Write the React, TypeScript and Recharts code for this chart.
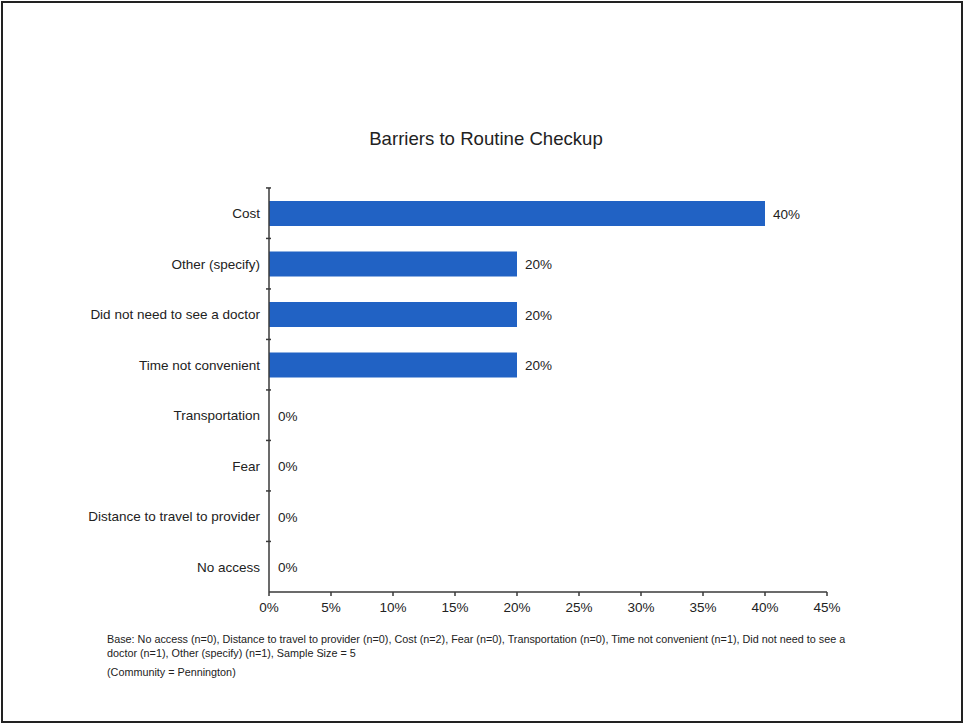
import { BarChart, Bar, XAxis, YAxis, LabelList, Cell } from 'recharts'

const CATEGORIES = [
  'Cost',
  'Other (specify)',
  'Did not need to see a doctor',
  'Time not convenient',
  'Transportation',
  'Fear',
  'Distance to travel to provider',
  'No access',
]

const PERCENTS = [40, 20, 20, 20, 0, 0, 0, 0]

const X_TICKS = [0, 5, 10, 15, 20, 25, 30, 35, 40, 45]

const NOTE_LINES = [
  'Base: No access (n=0), Distance to travel to provider (n=0), Cost (n=2), Fear (n=0), Transportation (n=0), Time not convenient (n=1), Did not need to see a',
  'doctor (n=1), Other (specify) (n=1), Sample Size = 5',
]
const COMMUNITY = '(Community = Pennington)'

const FONT = 'Arial, "Liberation Sans", sans-serif'
const BAR_COLOR = '#2162c4'
const AXIS_COLOR = '#3a3a3a'

const data = CATEGORIES.map((name, i) => ({ name, value: PERCENTS[i] }))

// category tick: label plus a small mark on the band boundary above it
const CategoryTick = (props: any) => {
  const { x, y, payload } = props
  const half = 405 / CATEGORIES.length / 2
  return (
    <g>
      <line x1={x + 5} x2={x + 10} y1={y - half} y2={y - half} stroke={AXIS_COLOR} strokeWidth={1.5} />
      <text x={x - 1} y={y + 1} dy={4} textAnchor="end" fontSize={13.5} fill="#222" fontFamily={FONT}>
        {payload.value}
      </text>
    </g>
  )
}

// value label, drawn for zero-length bars too
const ValueLabel = (props: any) => {
  const { x, y, width, height, value } = props
  return (
    <text
      x={Number(x) + Number(width) + 8}
      y={Number(y) + Number(height) / 2 + 5}
      fontSize={13.5}
      fill="#222"
      fontFamily={FONT}
    >
      {`${value}%`}
    </text>
  )
}

export default function App() {
  return (
    <div
      style={{
        position: 'absolute',
        left: 0,
        top: 0,
        width: 964,
        height: 724,
        background: '#fff',
        fontFamily: FONT,
      }}
    >
      <div
        style={{
          position: 'absolute',
          left: 1,
          top: 1,
          width: 958,
          height: 718,
          border: '2px solid #222',
        }}
      />
      <div
        style={{
          position: 'absolute',
          left: 0,
          width: 972,
          top: 128,
          textAlign: 'center',
          fontSize: 18.6,
          color: '#222',
        }}
      >
        Barriers to Routine Checkup
      </div>

      <div style={{ position: 'absolute', left: 0, top: 0 }}>
        <BarChart
          width={964}
          height={724}
          data={data}
          layout="vertical"
          margin={{ top: 188, right: 137, left: 9, bottom: 102 }}
          barSize={25}
        >
          <XAxis
            type="number"
            domain={[0, 45]}
            ticks={X_TICKS}
            tickFormatter={(v) => `${v}%`}
            height={30}
            interval={0}
            stroke={AXIS_COLOR}
            strokeWidth={1.5}
            tickSize={4}
            tickMargin={6}
            tick={{ fill: '#222', fontSize: 13.5, fontFamily: FONT }}
          />
          <YAxis
            type="category"
            dataKey="name"
            width={260}
            stroke={AXIS_COLOR}
            strokeWidth={1.5}
            tickLine={false}
            tick={<CategoryTick />}
          />
          <Bar dataKey="value" fill={BAR_COLOR} minPointSize={1} isAnimationActive={false}>
            {data.map((d, i) => (
              <Cell key={i} fill={d.value > 0 ? BAR_COLOR : 'transparent'} />
            ))}
            <LabelList dataKey="value" content={<ValueLabel />} />
          </Bar>
        </BarChart>
      </div>

      <div
        style={{
          position: 'absolute',
          left: 107,
          top: 632,
          fontSize: 10.8,
          lineHeight: '14px',
          color: '#222',
          whiteSpace: 'nowrap',
        }}
      >
        {NOTE_LINES.map((l) => (
          <div key={l}>{l}</div>
        ))}
        <div style={{ marginTop: 5 }}>{COMMUNITY}</div>
      </div>
    </div>
  )
}
